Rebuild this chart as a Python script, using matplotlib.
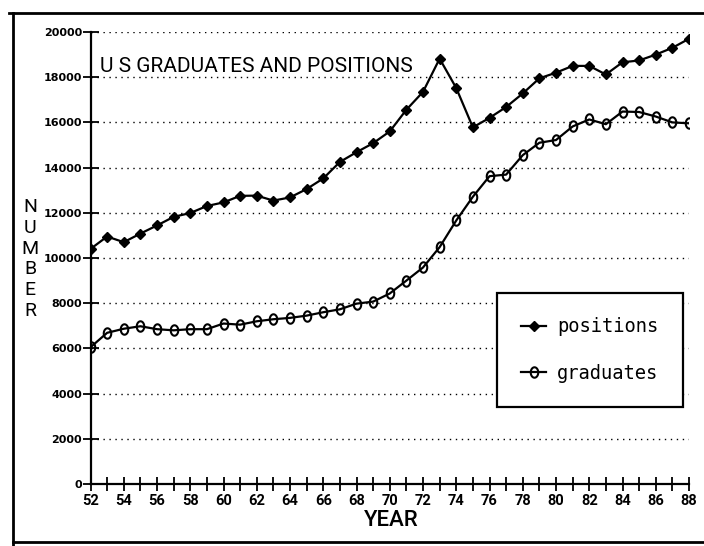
import numpy as np
import matplotlib
matplotlib.use('Agg')
import matplotlib.pyplot as plt
from matplotlib.path import Path
from matplotlib.lines import Line2D

# data
years = [52, 53, 54, 55, 56, 57, 58, 59, 60, 61, 62, 63, 64, 65, 66, 67, 68, 69, 70,
         71, 72, 73, 74, 75, 76, 77, 78, 79, 80, 81, 82, 83, 84, 85, 86, 87, 88]
positions = [10400, 10950, 10700, 11080, 11440, 11820, 11990, 12300, 12460, 12750,
             12760, 12540, 12680, 13050, 13520, 14250, 14680, 15080, 15600, 16560,
             17350, 18820, 17520, 15780, 16200, 16680, 17280, 17950, 18200, 18500,
             18500, 18120, 18660, 18740, 19000, 19300, 19700]
graduates = [6050, 6690, 6870, 6980, 6850, 6800, 6850, 6850, 7100, 7050,
             7200, 7290, 7350, 7450, 7600, 7730, 7980, 8070, 8430, 9000,
             9580, 10480, 11660, 12710, 13620, 13690, 14550, 15100, 15220, 15820,
             16130, 15920, 16480, 16460, 16260, 16000, 15960]
yticks = [0, 2000, 4000, 6000, 8000, 10000, 12000, 14000, 16000, 18000, 20000]
xlabels_years = [52, 54, 56, 58, 60, 62, 64, 66, 68, 70, 72, 74, 76, 78, 80, 82, 84, 86, 88]

lab_font = ['Roboto', 'DejaVu Sans']

W, H = 704, 546
fig = plt.figure(figsize=(W / 100, H / 100), dpi=100)
ax = fig.add_axes([90.5 / W, 1 - 484 / H, (689 - 90.5) / W, (484 - 32) / H])

# tall open ellipse marker for graduates
t = np.linspace(0, 2 * np.pi, 40)
oval = Path(np.column_stack([0.72 * np.cos(t), np.sin(t)]), closed=True)

ax.plot(years, positions, color='k', lw=1.6, marker='D', ms=4.8,
        mfc='k', mec='k', label='positions', zorder=3)
ax.plot(years, graduates, color='k', lw=1.6, marker=oval, ms=7.5,
        mfc='none', mec='k', mew=1.5, label='graduates', zorder=3)

ax.set_xlim(52, 88)
ax.set_ylim(0, 20000)
ax.set_yticks(yticks)
ax.set_yticklabels([str(v) for v in yticks], fontfamily='DejaVu Sans',
                   fontweight='bold', fontsize=8)
ax.set_xticks(years, minor=True)
ax.set_xticks(xlabels_years)
ax.set_xticklabels([str(v) for v in xlabels_years], fontfamily=lab_font,
                   fontweight='bold', fontsize=10.5)
ax.tick_params(axis='y', direction='inout', length=12, width=1.3, pad=0)
ax.tick_params(axis='x', which='both', direction='inout', length=10, width=1.3, pad=2)

for s in ['top', 'right']:
    ax.spines[s].set_visible(False)
for s in ['left', 'bottom']:
    ax.spines[s].set_linewidth(1.6)

for v in yticks[1:]:
    ax.axhline(v, color='k', lw=1.0, linestyle=(0, (1, 3.3)), zorder=1)

# title and axis labels
fig.text(100 / W, 1 - 72 / H, 'U S GRADUATES AND POSITIONS', fontfamily=lab_font,
         fontsize=15, ha='left', va='baseline')
fig.text(391 / W, 1 - 521 / H, 'YEAR', fontfamily=lab_font, fontweight='medium',
         fontsize=16, ha='center', va='center')
fig.text(30 / W, 1 - 259 / H, 'N\nU\nM\nB\nE\nR', fontfamily=lab_font,
         fontsize=14, ha='center', va='center', linespacing=1.2)

leg = ax.legend(loc='upper left', bbox_to_anchor=(497 / W, 1 - 293 / H),
                bbox_transform=fig.transFigure, prop={'family': 'DejaVu Sans Mono', 'size': 13.5},
                frameon=True, fancybox=False, framealpha=1, edgecolor='k',
                borderpad=1.3, labelspacing=1.45, handlelength=1.3,
                handletextpad=0.6, numpoints=1, borderaxespad=0)
leg.get_frame().set_linewidth(1.6)
leg.set_zorder(5)

# outer frame of the scanned page (top, left, bottom)
fig.add_artist(Line2D([9 / W, 1], [1 - 13 / H, 1 - 13 / H], color='k', lw=2,
                      transform=fig.transFigure))
fig.add_artist(Line2D([13 / W, 13 / W], [1 - 13 / H, 0], color='k', lw=2,
                      transform=fig.transFigure))
fig.add_artist(Line2D([13 / W, 1], [1 - 542 / H, 1 - 542 / H], color='k', lw=2,
                      transform=fig.transFigure))

fig.savefig('out.png', dpi=100)
